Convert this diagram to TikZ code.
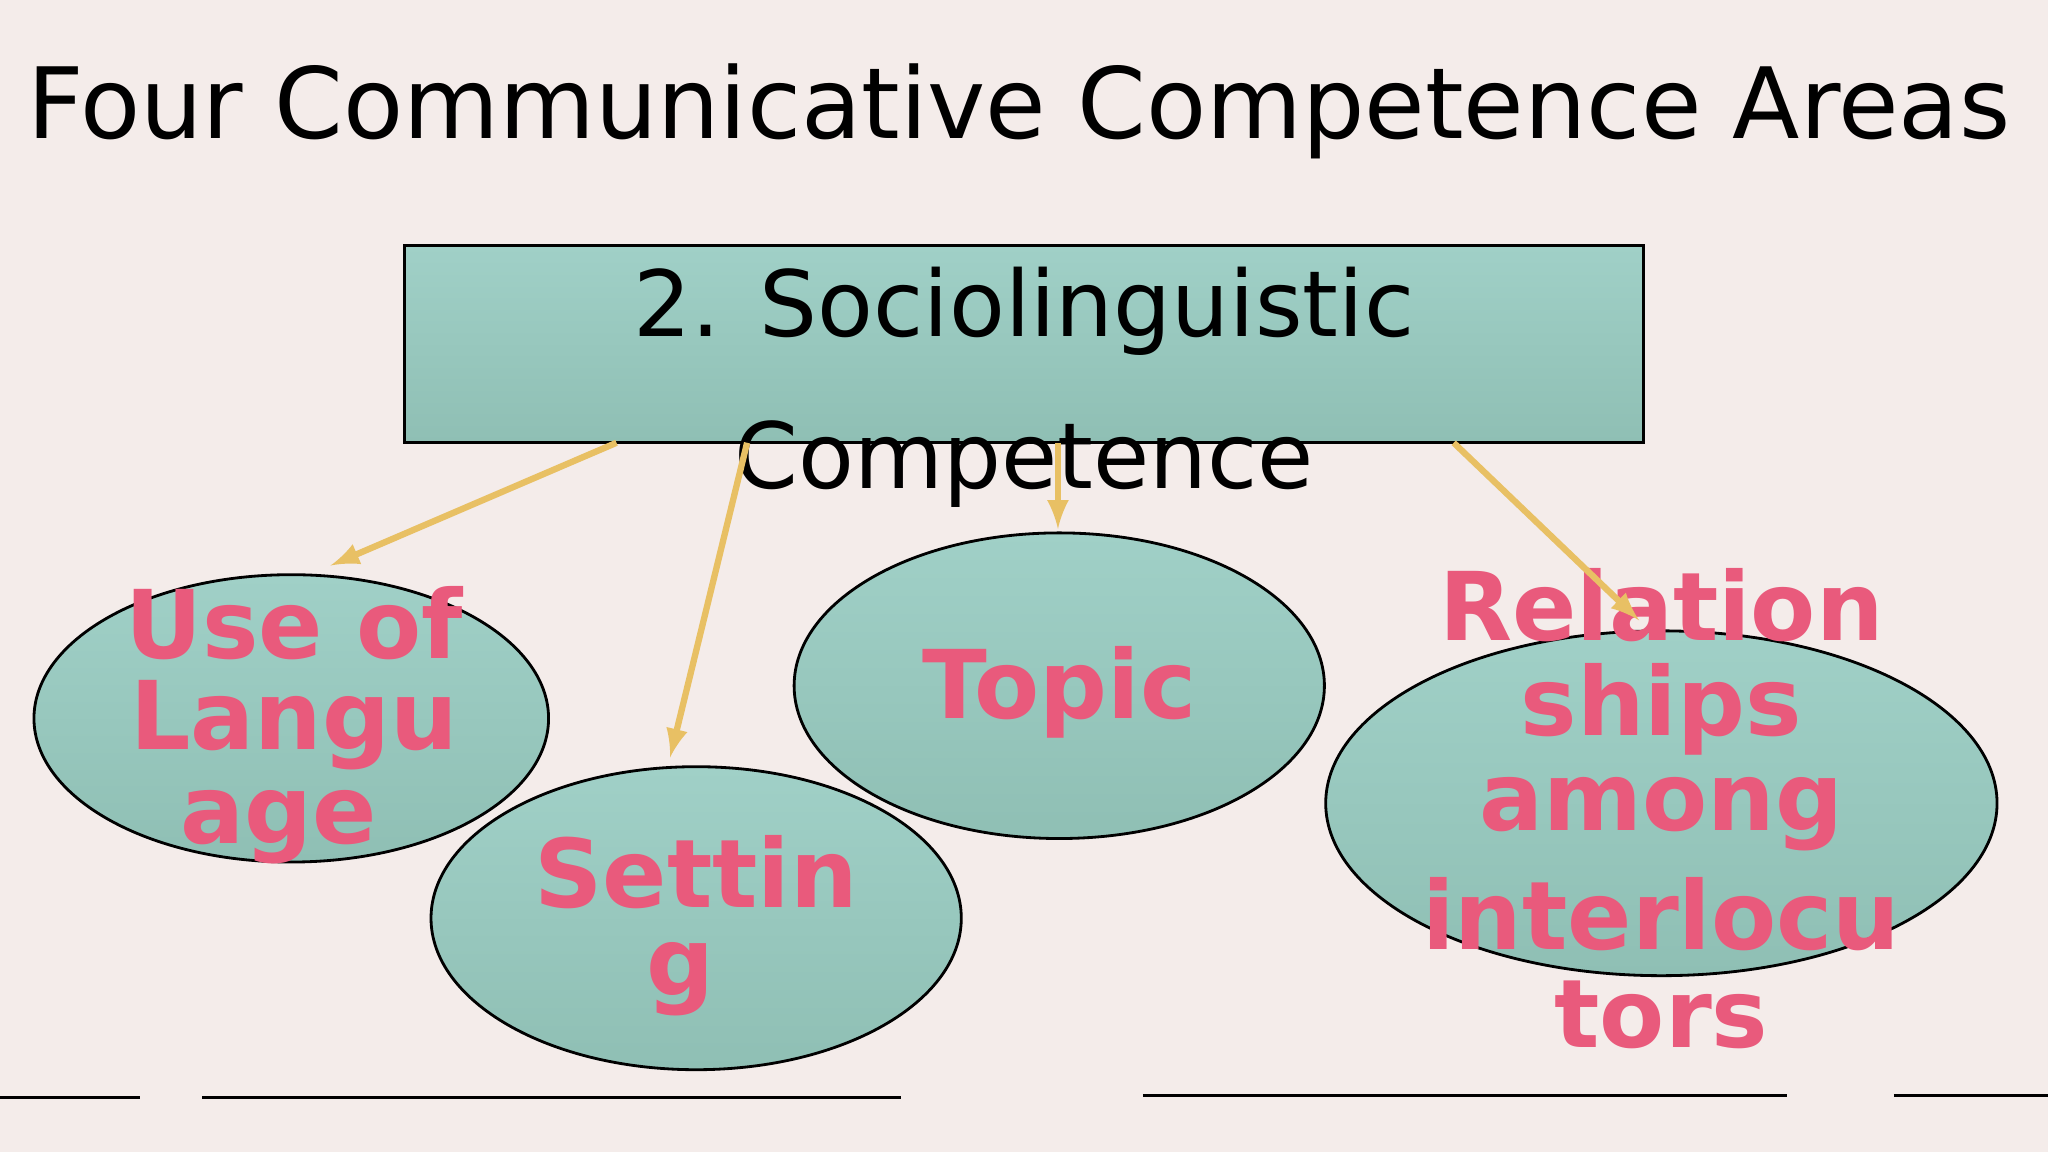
\documentclass[tikz,border=0pt]{standalone}
\usepackage{fontspec}
\usetikzlibrary{shapes.geometric}
\setmainfont{DejaVu Sans}
\definecolor{bg}{HTML}{F4ECEA}
\definecolor{tealA}{HTML}{A0D0C7}
\definecolor{tealB}{HTML}{8FBFB4}
\definecolor{pinkt}{HTML}{E95A7C}
\definecolor{gold}{HTML}{E8C064}
\begin{document}
\begin{tikzpicture}[x=0.013061cm,y=-0.013061cm,
  shp/.style={draw=black,line width=0.8pt,top color=tealA,bottom color=tealB},
  lab/.style={text=pinkt,font=\fontsize{27}{30}\selectfont\bfseries,align=center},
  arr/.style={draw=gold,line width=1.8pt,-latex}]
\fill[bg] (0,0) rectangle (1568,882);
\useasboundingbox (0,0) rectangle (1568,882);
\node (title) at (780,85) {\fontsize{28}{32}\selectfont Four Communicative Competence Areas};
\node[shp,minimum width=948*0.013061cm,minimum height=151*0.013061cm] (box) at (784,263.5) {};
\node (t1) at (784,238) {\fontsize{26}{30}\selectfont 2. Sociolinguistic};
\node (t2) at (784,355) {\fontsize{26}{30}\selectfont Competence};
\node[shp,ellipse,minimum width=394*0.013061cm,minimum height=220*0.013061cm,inner sep=0] (e1) at (223,550) {};
\node[shp,ellipse,minimum width=406*0.013061cm,minimum height=232*0.013061cm,inner sep=0] (e2) at (533,703) {};
\node[shp,ellipse,minimum width=406*0.013061cm,minimum height=234*0.013061cm,inner sep=0] (e3) at (811,525) {};
\node[shp,ellipse,minimum width=514*0.013061cm,minimum height=264*0.013061cm,inner sep=0] (e4) at (1272,615) {};
\node[lab] (l1a) at (225,477) {Use of};
\node[lab] (l1b) at (225,555) {Langu};
\node[lab] (l1c) at (213,633) {age};
\node[lab] (l2a) at (533,668) {Settin};
\node[lab] (l2b) at (521,750) {g};
\node[lab] (l3) at (811,530) {Topic};
\node[lab] (l4a) at (1272,463) {Relation};
\node[lab] (l4b) at (1272,543) {ships};
\node[lab] (l4c) at (1272,623) {among};
\node[lab] (l4d) at (1272,700) {interlocu};
\node[lab] (l4e) at (1272,777) {tors};
\coordinate (a1) at (472,339); \coordinate (b1) at (253,433);
\coordinate (a2) at (572,339); \coordinate (b2) at (513,580);
\coordinate (a3) at (810,339); \coordinate (b3) at (810,405);
\coordinate (a4) at (1113,339); \coordinate (b4) at (1255,475);
\draw[arr] (a1) -- (b1);
\draw[arr] (a2) -- (b2);
\draw[arr] (a3) -- (b3);
\draw[arr] (a4) -- (b4);
\draw[line width=0.8pt] (0,840) -- (107,840) (155,840) -- (690,840) (875,839) -- (1368,839) (1450,839) -- (1568,839);
\end{tikzpicture}
\end{document}
